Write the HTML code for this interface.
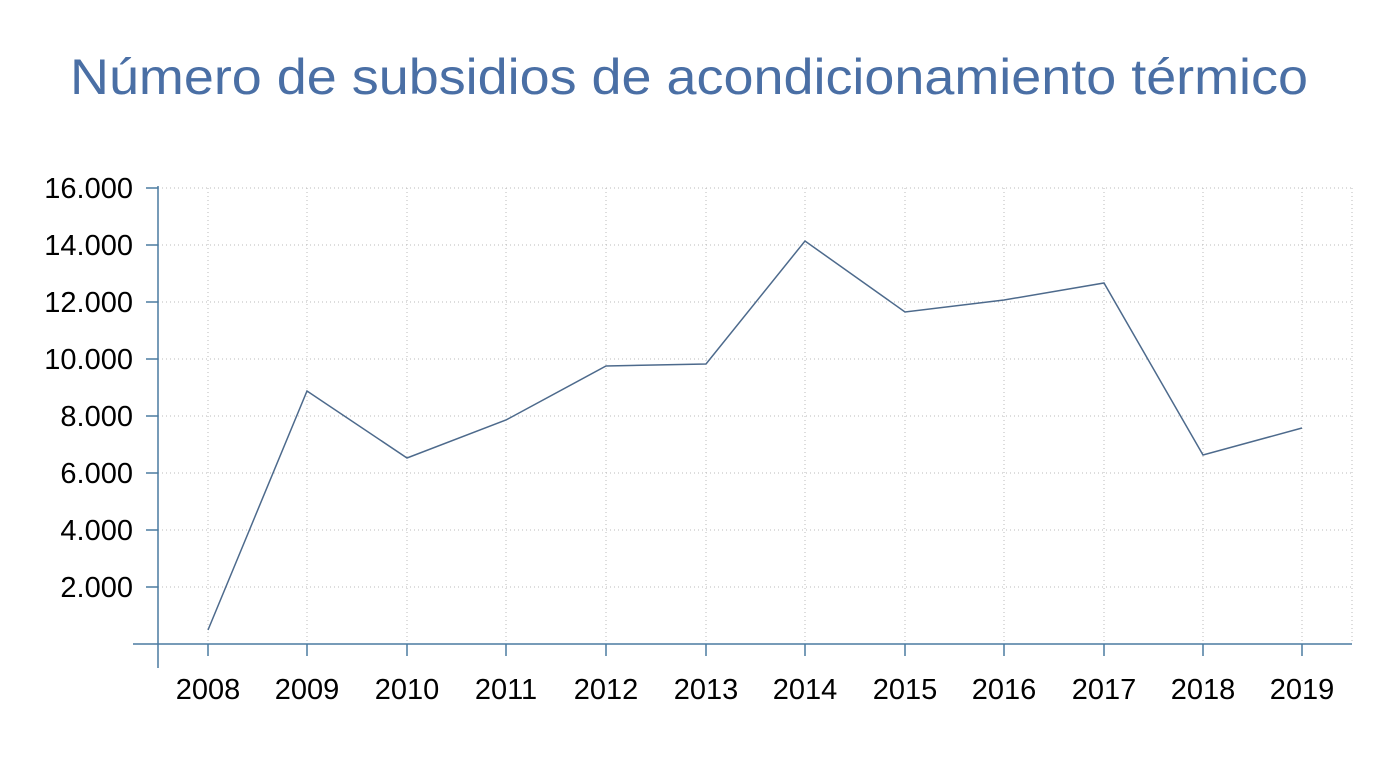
<!DOCTYPE html>
<html><head><meta charset="utf-8"><style>
body{margin:0;background:#fff;width:1379px;height:752px;overflow:hidden}
</style></head><body>
<svg width="1379" height="752" xmlns="http://www.w3.org/2000/svg" font-family="Liberation Sans, sans-serif">
<text x="70" y="94" font-size="50" fill="#4a6fa5" textLength="1238" lengthAdjust="spacingAndGlyphs">Número de subsidios de acondicionamiento térmico</text>
<g stroke="#bbb" stroke-width="1" stroke-dasharray="1,3">
<line x1="158" y1="188" x2="1352" y2="188"/><line x1="158" y1="245" x2="1352" y2="245"/>
<line x1="158" y1="302" x2="1352" y2="302"/><line x1="158" y1="359" x2="1352" y2="359"/>
<line x1="158" y1="416" x2="1352" y2="416"/><line x1="158" y1="473" x2="1352" y2="473"/>
<line x1="158" y1="530" x2="1352" y2="530"/><line x1="158" y1="587" x2="1352" y2="587"/>
<line x1="208" y1="188" x2="208" y2="643"/><line x1="307" y1="188" x2="307" y2="643"/>
<line x1="407" y1="188" x2="407" y2="643"/><line x1="506" y1="188" x2="506" y2="643"/>
<line x1="606" y1="188" x2="606" y2="643"/><line x1="706" y1="188" x2="706" y2="643"/>
<line x1="805" y1="188" x2="805" y2="643"/><line x1="905" y1="188" x2="905" y2="643"/>
<line x1="1004" y1="188" x2="1004" y2="643"/><line x1="1104" y1="188" x2="1104" y2="643"/>
<line x1="1203" y1="188" x2="1203" y2="643"/><line x1="1302" y1="188" x2="1302" y2="643"/>
<line x1="1352" y1="188" x2="1352" y2="643"/>
</g>
<g stroke="#4a7aa0" stroke-width="1.5">
<line x1="158" y1="186" x2="158" y2="668"/><line x1="133" y1="644" x2="1352" y2="644"/>
<line x1="146" y1="188" x2="158" y2="188"/><line x1="146" y1="245" x2="158" y2="245"/>
<line x1="146" y1="302" x2="158" y2="302"/><line x1="146" y1="359" x2="158" y2="359"/>
<line x1="146" y1="416" x2="158" y2="416"/><line x1="146" y1="473" x2="158" y2="473"/>
<line x1="146" y1="530" x2="158" y2="530"/><line x1="146" y1="587" x2="158" y2="587"/>
<line x1="208" y1="644" x2="208" y2="656"/><line x1="307" y1="644" x2="307" y2="656"/>
<line x1="407" y1="644" x2="407" y2="656"/><line x1="506" y1="644" x2="506" y2="656"/>
<line x1="606" y1="644" x2="606" y2="656"/><line x1="706" y1="644" x2="706" y2="656"/>
<line x1="805" y1="644" x2="805" y2="656"/><line x1="905" y1="644" x2="905" y2="656"/>
<line x1="1004" y1="644" x2="1004" y2="656"/><line x1="1104" y1="644" x2="1104" y2="656"/>
<line x1="1203" y1="644" x2="1203" y2="656"/><line x1="1302" y1="644" x2="1302" y2="656"/>
</g>
<polyline fill="none" stroke="#4d6a8c" stroke-width="1.5" points="208,630 307,391 407,458 506,420 606,366 706,364 805,241 905,312 1004,300 1104,283 1203,455 1302,428"/>
<g font-size="29" fill="#000" text-anchor="end">
<text x="133" y="198">16.000</text><text x="133" y="255">14.000</text><text x="133" y="312">12.000</text>
<text x="133" y="369">10.000</text><text x="133" y="426">8.000</text><text x="133" y="483">6.000</text>
<text x="133" y="540">4.000</text><text x="133" y="597">2.000</text>
</g>
<g font-size="29" fill="#000" text-anchor="middle">
<text x="208" y="699">2008</text><text x="307" y="699">2009</text><text x="407" y="699">2010</text>
<text x="506" y="699">2011</text><text x="606" y="699">2012</text><text x="706" y="699">2013</text>
<text x="805" y="699">2014</text><text x="905" y="699">2015</text><text x="1004" y="699">2016</text>
<text x="1104" y="699">2017</text><text x="1203" y="699">2018</text><text x="1302" y="699">2019</text>
</g>
</svg>
</body></html>
